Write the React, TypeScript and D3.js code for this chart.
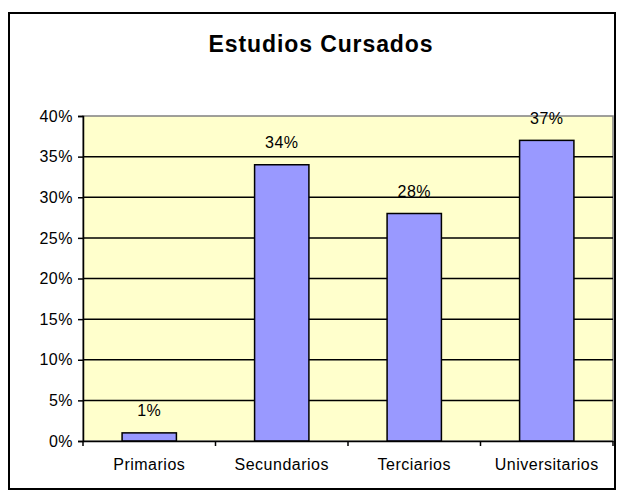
import React, { useEffect, useRef } from "react";
import * as d3 from "d3";

const categories = ["Primarios", "Secundarios", "Terciarios", "Universitarios"];
const values = [1, 34, 28, 37];
const yTicks = [0, 5, 10, 15, 20, 25, 30, 35, 40];
const title = "Estudios Cursados";

const App: React.FC = () => {
    const svgRef = useRef<SVGSVGElement>(null);

    const width = 623;
    const height = 496;
    const plot = { left: 83, right: 613, top: 116, bottom: 441 };
    const font = "'Liberation Sans', Arial, sans-serif";

    useEffect(() => {
        if (!svgRef.current) return;
        const svg = d3.select(svgRef.current);
        svg.selectAll("*").remove();

        // Outer chart border
        svg.append("rect")
            .attr("x", 9)
            .attr("y", 13)
            .attr("width", 606)
            .attr("height", 476)
            .attr("fill", "white")
            .attr("stroke", "black")
            .attr("stroke-width", 2);

        // Title
        svg.append("text")
            .attr("x", 321)
            .attr("y", 52)
            .attr("text-anchor", "middle")
            .attr("font-family", font)
            .attr("font-size", 23)
            .attr("font-weight", "bold")
            .attr("letter-spacing", 0.9)
            .text(title);

        const xScale = d3
            .scaleBand()
            .domain(categories)
            .range([plot.left, plot.right]);

        const yScale = d3
            .scaleLinear()
            .domain([0, 40])
            .range([plot.bottom, plot.top]);

        // Plot background
        svg.append("rect")
            .attr("x", plot.left)
            .attr("y", plot.top)
            .attr("width", plot.right - plot.left)
            .attr("height", plot.bottom - plot.top)
            .attr("fill", "#FFFFCC")
            .attr("stroke", "#808080")
            .attr("stroke-width", 1.5);

        // Gridlines
        svg.append("g")
            .selectAll("line")
            .data(yTicks.filter((t) => t > 0 && t < 40))
            .enter()
            .append("line")
            .attr("x1", plot.left)
            .attr("x2", plot.right)
            .attr("y1", (d) => yScale(d))
            .attr("y2", (d) => yScale(d))
            .attr("stroke", "black")
            .attr("stroke-width", 1.5);

        // Bars
        const barW = xScale.bandwidth() * 0.41;
        svg.append("g")
            .selectAll("rect")
            .data(values)
            .enter()
            .append("rect")
            .attr("x", (d, i) => (xScale(categories[i]) || 0) + (xScale.bandwidth() - barW) / 2)
            .attr("y", (d) => yScale(d))
            .attr("width", barW)
            .attr("height", (d) => plot.bottom - yScale(d))
            .attr("fill", "#9999FF")
            .attr("stroke", "black")
            .attr("stroke-width", 1.5);

        // Value labels
        svg.append("g")
            .selectAll("text")
            .data(values)
            .enter()
            .append("text")
            .attr("x", (d, i) => (xScale(categories[i]) || 0) + xScale.bandwidth() / 2)
            .attr("y", (d) => yScale(d) - 16.5)
            .attr("text-anchor", "middle")
            .attr("font-family", font)
            .attr("font-size", 16)
            .attr("letter-spacing", 0.5)
            .text((d) => `${d}%`);

        // Y axis
        const yAxis = d3
            .axisLeft(yScale)
            .tickValues(yTicks)
            .tickSize(5)
            .tickPadding(5)
            .tickFormat((d) => `${d}%`);
        const yg = svg.append("g")
            .attr("transform", `translate(${plot.left},0)`)
            .call(yAxis);
        yg.select(".domain").attr("stroke", "black").attr("stroke-width", 1.5);
        yg.selectAll(".tick line").attr("stroke-width", 1.5);
        yg.selectAll("text")
            .attr("font-family", font)
            .attr("font-size", 16)
            .attr("letter-spacing", 0.5)
            .attr("fill", "black");

        // X axis
        const xAxis = d3.axisBottom(xScale).tickSize(0).tickPadding(18);
        const xg = svg.append("g")
            .attr("transform", `translate(0,${plot.bottom})`)
            .call(xAxis);
        xg.select(".domain").attr("stroke", "black").attr("stroke-width", 1.5);
        xg.selectAll("text")
            .attr("font-family", font)
            .attr("font-size", 16)
            .attr("letter-spacing", 0.5)
            .attr("fill", "black");

        // X ticks at category boundaries
        const bounds = categories.map((c) => xScale(c) || 0).concat([plot.right]);
        svg.append("g")
            .selectAll("line")
            .data(bounds)
            .enter()
            .append("line")
            .attr("x1", (d) => d)
            .attr("x2", (d) => d)
            .attr("y1", plot.bottom)
            .attr("y2", plot.bottom + 5)
            .attr("stroke", "black")
            .attr("stroke-width", 1.5);
    }, []);

    return (
        <svg
            ref={svgRef}
            width={width}
            height={height}
            style={{ position: "absolute", left: 0, top: 0, background: "white" }}
        />
    );
};

export default App;
